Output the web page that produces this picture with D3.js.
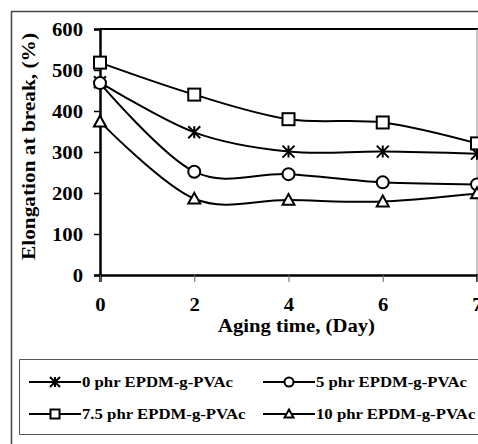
<!DOCTYPE html>
<html><head><meta charset="utf-8">
<script src="https://cdn.jsdelivr.net/npm/d3@7"></script>
<style>body{margin:0;background:#fff}svg{display:block}text{font-family:"Liberation Serif","Times New Roman",serif;font-weight:bold;fill:#000}</style>
</head><body>
<script>
const categories = ["0","2","4","6","7"];
const yTicks = [0,100,200,300,400,500,600];
const seriesNames = ["0 phr EPDM-g-PVAc","5 phr EPDM-g-PVAc","7.5 phr EPDM-g-PVAc","10 phr EPDM-g-PVAc"];
const markers = ["star","circle","square","triangle"];
const phr0 = [470,348,301,301,296];
const phr5 = [468,252,246,226,221];
const phr75 = [518,440,380,372,321];
const phr10 = [374,186,183,179,199];
const seriesValues = [phr0,phr5,phr75,phr10];

const W=478,H=444;
const svg=d3.select("body").append("svg").attr("width",W).attr("height",H);
function stretch(sel,f){ sel.each(function(){ const w=this.getComputedTextLength(); d3.select(this).attr("textLength",w*f).attr("lengthAdjust","spacingAndGlyphs"); }); }

// outer frame
svg.append("path").attr("d","M11.5,444 V11.5 H478").attr("fill","none").attr("stroke","#444").attr("stroke-width",1.5);

const x=d3.scalePoint().domain(categories).range([100,477]);
const y=d3.scaleLinear().domain([0,600]).range([275,29]);

// plot border top/right
svg.append("line").attr("x1",100).attr("x2",478).attr("y1",y(600)).attr("y2",y(600)).attr("stroke","#000").attr("stroke-width",2);
svg.append("line").attr("x1",477).attr("x2",477).attr("y1",y(600)).attr("y2",y(0)).attr("stroke","#888").attr("stroke-width",1);

// y axis
const ya=svg.append("g").attr("transform","translate(100,0)").call(d3.axisLeft(y).tickValues(yTicks).tickSize(6).tickPadding(11).tickFormat(d3.format("d")));
ya.select(".domain").attr("stroke","#000").attr("stroke-width",2.5);
ya.selectAll(".tick line").attr("stroke","#000").attr("stroke-width",1.5);
ya.selectAll("text").style("font-size","19px").attr("fill","#000").attr("font-family",null);
stretch(ya.selectAll("text"),1.09);

// x axis
const xa=svg.append("g").attr("transform",`translate(0,${y(0)})`).call(d3.axisBottom(x).tickSize(7).tickPadding(16));
xa.select(".domain").attr("stroke","#000").attr("stroke-width",2.5);
xa.selectAll(".tick line").attr("stroke","#666").attr("stroke-width",1);
xa.selectAll("text").style("font-size","19px").attr("fill","#000").attr("font-family",null);
stretch(xa.selectAll("text"),1.09);

const xt=svg.append("text").attr("x",296.5).attr("y",332).attr("text-anchor","middle").style("font-size","19px").text("Aging time, (Day)");
xt.attr("textLength",157).attr("lengthAdjust","spacingAndGlyphs");
const yt=svg.append("text").attr("transform","translate(35,146.5) rotate(-90)").attr("text-anchor","middle").style("font-size","19px").text("Elongation at break, (%)");
yt.attr("textLength",227).attr("lengthAdjust","spacingAndGlyphs");

function drawMarker(g,type,cx,cy,s){
  if(type==="square") g.append("rect").attr("x",cx-s).attr("y",cy-s).attr("width",2*s).attr("height",2*s).attr("fill","#fff").attr("stroke","#000").attr("stroke-width",2);
  else if(type==="circle") g.append("circle").attr("cx",cx).attr("cy",cy).attr("r",s).attr("fill","#fff").attr("stroke","#000").attr("stroke-width",2);
  else if(type==="triangle") g.append("path").attr("d",`M${cx},${cy-s} L${cx+s},${cy+s*0.8} L${cx-s},${cy+s*0.8}Z`).attr("fill","#fff").attr("stroke","#000").attr("stroke-width",2);
  else if(type==="star") g.append("path").attr("d",`M${cx},${cy-s}V${cy+s}M${cx-s},${cy-s}L${cx+s},${cy+s}M${cx+s},${cy-s}L${cx-s},${cy+s}`).attr("fill","none").attr("stroke","#000").attr("stroke-width",2);
}

const line=d3.line().x((d,i)=>x(categories[i])).y(d=>y(d)).curve(d3.curveCardinal.tension(0));
const plot=svg.append("g");
seriesValues.forEach((vals,k)=>{
  plot.append("path").attr("d",line(vals)).attr("fill","none").attr("stroke","#000").attr("stroke-width",2);
});
seriesValues.forEach((vals,k)=>{
  vals.forEach((v,i)=>drawMarker(plot,markers[k],x(categories[i]),y(v),6));
});

// legend
svg.append("path").attr("d","M19.5,359.5 H478 M19.5,359.5 V434.5 H478").attr("fill","none").attr("stroke","#555").attr("stroke-width",1);
const legPos=[[29,382],[263,382],[29,414],[263,414]];
const legTexts=[];
seriesNames.forEach((n,k)=>{
  const [lx,ly]=legPos[k];
  const g=svg.append("g");
  g.append("line").attr("x1",lx).attr("x2",lx+52).attr("y1",ly).attr("y2",ly).attr("stroke","#000").attr("stroke-width",2);
  drawMarker(g,markers[k],lx+26,ly,markers[k]==="star"?5:4.5);
  legTexts.push(g.append("text").attr("x",lx+53).attr("y",ly+5).style("font-size","15px").text(n).node());
});
const f=151/legTexts[0].getComputedTextLength();
stretch(d3.selectAll(legTexts),f);
</script>
</body></html>
